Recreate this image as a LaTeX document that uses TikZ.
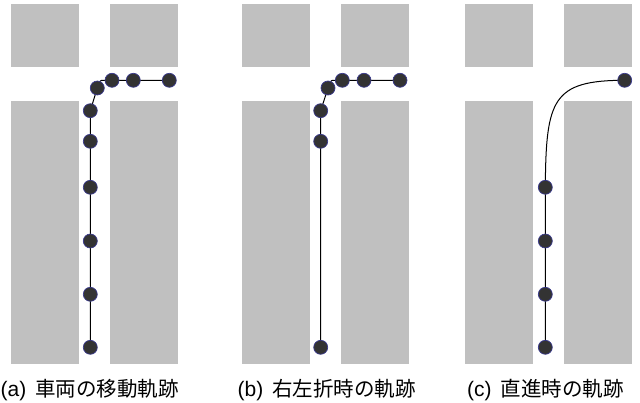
\documentclass[tikz,border=0pt]{standalone}
\usepackage{fontspec}
\setmainfont{Noto Sans CJK JP}
\newfontfamily\latinlab{Liberation Sans}
\usetikzlibrary{backgrounds}
\definecolor{blockgray}{HTML}{C0C0C0}
\definecolor{dotfill}{HTML}{333333}
\definecolor{dotedge}{HTML}{3A3A8C}
\tikzset{
  block/.style={fill=blockgray, draw=none},
  pt/.style={circle, fill=dotfill, draw=dotedge, line width=0.7pt, minimum size=14pt, inner sep=0pt},
  track/.style={draw=black, line width=1pt},
  caption/.style={anchor=base west, inner sep=0pt, font=\fontsize{20.5}{24}\selectfont}
}
\newcommand{\plab}[1]{{\latinlab\fontsize{21}{24}\selectfont(#1)}\hspace{9pt}}
\begin{document}
\begin{tikzpicture}[x=1pt, y=-1pt]
\useasboundingbox (0,0) rectangle (640,403);
% blocks
\foreach \o in {0,230.5,454} {
  \fill[block] (11+\o,4) rectangle (79+\o,67);
  \fill[block] (110+\o,4) rectangle (178+\o,67);
  \fill[block] (11+\o,101) rectangle (79+\o,364);
  \fill[block] (110+\o,101) rectangle (178+\o,364);
}
% panel (a)
\node[pt] (a1) at (169.3,80.3) {};
\node[pt] (a2) at (133.3,80.3) {};
\node[pt] (a3) at (112,80.3) {};
\node[pt] (a4) at (97.3,88) {};
\node[pt] (a5) at (90.3,110.7) {};
\node[pt] (a6) at (90.3,141.3) {};
\node[pt] (a7) at (90.3,187.3) {};
\node[pt] (a8) at (90.3,241) {};
\node[pt] (a9) at (90.3,294.3) {};
\node[pt] (a10) at (90.3,347.3) {};
\coordinate (ac) at (99.5,80.3);
% panel (b)
\node[pt] (b1) at (400,80.3) {};
\node[pt] (b2) at (364,80.3) {};
\node[pt] (b3) at (342.3,80.3) {};
\node[pt] (b4) at (328,88) {};
\node[pt] (b5) at (320.7,110.7) {};
\node[pt] (b6) at (320.7,141.3) {};
\node[pt] (b7) at (320.7,347.3) {};
\coordinate (bc) at (330.2,80.3);
% panel (c)
\node[pt] (c1) at (624.7,80.3) {};
\node[pt] (c2) at (545.3,187.3) {};
\node[pt] (c3) at (545.3,241) {};
\node[pt] (c4) at (545.3,294.3) {};
\node[pt] (c5) at (545.3,347.3) {};
\begin{scope}[on background layer]
\draw[track, rounded corners=2pt] (a10.center) -- (a5.center) -- (a4.center) -- (ac) -- (a1.center);
\draw[track, rounded corners=2pt] (b7.center) -- (b5.center) -- (b4.center) -- (bc) -- (b1.center);
\draw[track] (c5.center) -- (c2.center) .. controls (546,100) and (552,80.3) .. (c1.center);
\end{scope}
% captions
\node[caption] (la) at (0.5,396) {\plab{a}車両の移動軌跡};
\node[caption] (lb) at (237.5,396) {\plab{b}右左折時の軌跡};
\node[caption] (lc) at (467,396) {\plab{c}直進時の軌跡};
\end{tikzpicture}
\end{document}
